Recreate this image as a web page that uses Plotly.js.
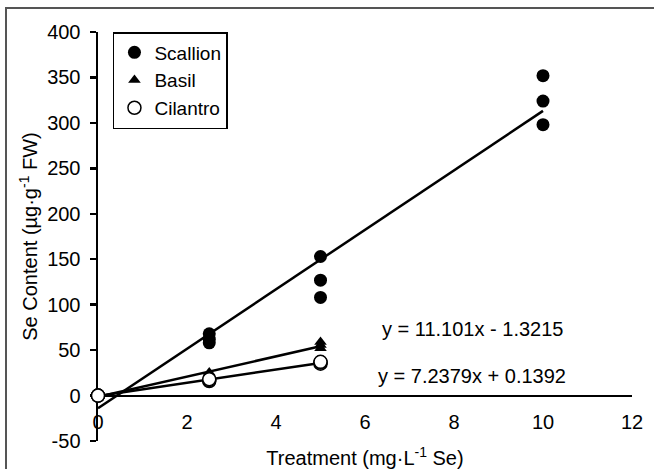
<!DOCTYPE html>
<html>
<head>
<meta charset="utf-8">
<script src="https://cdn.plot.ly/plotly-3.0.1.min.js"></script>
<style>html,body{margin:0;padding:0;background:#fff;}#chart{width:654px;height:469px;}</style>
</head>
<body>
<div id="chart"></div>
<script>
// Data
const scallionX = [0, 0, 0, 2.5, 2.5, 2.5, 5, 5, 5, 10, 10, 10];
const scallionY = [0, 0, 0, 58, 62, 68, 108, 127, 153, 298, 324, 352];
const basilX = [0, 0, 0, 2.5, 2.5, 2.5, 5, 5, 5];
const basilY = [0, 0, 0, 22, 24, 25.4, 52, 55.5, 59];
const cilantroX = [0, 0, 0, 2.5, 2.5, 2.5, 5, 5, 5];
const cilantroY = [0, 0, 0, 16, 17, 18, 35, 36.5, 37.1];
const seriesNames = ["Scallion", "Basil", "Cilantro"];
const equationLabels = ["y = 11.101x - 1.3215", "y = 7.2379x + 0.1392"];
const xTicks = [0, 2, 4, 6, 8, 10, 12];
const yTicks = [-50, 0, 50, 100, 150, 200, 250, 300, 350, 400];

function linFit(xs, ys) {
  const n = xs.length;
  const mx = xs.reduce((a, b) => a + b, 0) / n;
  const my = ys.reduce((a, b) => a + b, 0) / n;
  let sxy = 0, sxx = 0;
  for (let i = 0; i < n; i++) { sxy += (xs[i] - mx) * (ys[i] - my); sxx += (xs[i] - mx) ** 2; }
  const m = sxy / sxx, b = my - m * mx;
  const x0 = Math.min(...xs), x1 = Math.max(...xs);
  return { x: [x0, x1], y: [m * x0 + b, m * x1 + b] };
}

const font = "Liberation Sans, Arial, sans-serif";
const FS = 20;
const traces = [];
[[scallionX, scallionY], [basilX, basilY], [cilantroX, cilantroY]].forEach(([xs, ys]) => {
  const f = linFit(xs, ys);
  traces.push({ x: f.x, y: f.y, mode: "lines", line: { color: "#000", width: 2.5 }, showlegend: false, hoverinfo: "skip", cliponaxis: false });
});
traces.push({ x: scallionX, y: scallionY, name: seriesNames[0], mode: "markers", cliponaxis: false,
  marker: { symbol: "circle", size: 13, color: "#000" } });
traces.push({ x: basilX, y: basilY, name: seriesNames[1], mode: "markers", cliponaxis: false,
  marker: { symbol: "triangle-up", size: 11, color: "#000" } });
traces.push({ x: cilantroX, y: cilantroY, name: seriesNames[2], mode: "markers", cliponaxis: false,
  marker: { symbol: "circle", size: 13, color: "#fff", line: { color: "#000", width: 1.5 } } });

const layout = {
  width: 654, height: 469,
  margin: { l: 98, r: 22, t: 32, b: 28 },
  paper_bgcolor: "#fff", plot_bgcolor: "#fff",
  font: { family: font, size: FS, color: "#000" },
  showlegend: true,
  legend: { x: 0.028, y: 1.0, xanchor: "left", yanchor: "top", bgcolor: "#fff",
    bordercolor: "#000", borderwidth: 1.5, font: { size: 19, family: font }, tracegroupgap: 0, itemwidth: 30 },
  xaxis: {
    range: [0, 12], tickvals: xTicks, ticktext: xTicks.map(String),
    showgrid: false, zeroline: false, showline: true, linecolor: "#000", linewidth: 2.5,
    ticks: "", anchor: "free", position: 50 / 450, layer: "below traces",
    ticklabelstandoff: 8,
    tickfont: { size: FS, family: font },
    title: { text: "Treatment (mg·L<sup>-1</sup> Se)", font: { size: FS, family: font }, standoff: 19 }
  },
  yaxis: {
    range: [-50, 400], tickvals: yTicks, ticktext: yTicks.map(String),
    showgrid: false, zeroline: false, showline: true, linecolor: "#000", linewidth: 2.5,
    ticks: "outside", ticklen: 6, tickwidth: 2.5, tickcolor: "#000", layer: "below traces",
    ticklabelstandoff: 5,
    tickfont: { size: FS, family: font },
    title: { text: "Se Content (µg·g<sup>-1</sup> FW)", font: { size: FS, family: font }, standoff: 4 }
  },
  annotations: [
    { xref: "x", yref: "y", text: equationLabels[0], showarrow: false, font: { size: FS, family: font } },
    { xref: "x", yref: "y", text: equationLabels[1], showarrow: false, font: { size: FS, family: font } }
  ],
  shapes: [
    { type: "rect", xref: "paper", yref: "paper", x0: (6 - 98) / 534, x1: (700 - 98) / 534,
      y0: (441 - 520) / 409, y1: (441 - 8) / 409, line: { color: "#555", width: 2 }, fillcolor: "rgba(0,0,0,0)", layer: "below" }
  ]
};
// Equation label positions are in pixels; convert to data coordinates
layout.annotations[0].x = (472 - 98) / 534 * 12; layout.annotations[0].y = (396 - 329) / 0.91;
layout.annotations[1].x = (472 - 98) / 534 * 12; layout.annotations[1].y = (396 - 376) / 0.91;

Plotly.newPlot("chart", traces, layout, { displayModeBar: false, staticPlot: true });
</script>
</body>
</html>
